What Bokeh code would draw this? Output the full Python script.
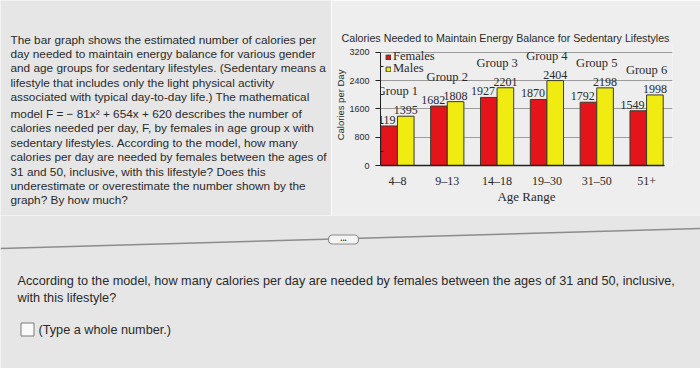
from bokeh.plotting import figure
from bokeh.models import Range1d, FixedTicker, Legend, LegendItem, ColumnDataSource
from bokeh.layouts import column, row
from bokeh.embed import file_html
from bokeh.resources import INLINE
from bokeh.core.properties import value

# ---------------- data ----------------
categories = ["4–8", "9–13", "14–18", "19–30", "31–50", "51+"]
groups = ["Group 1", "Group 2", "Group 3", "Group 4", "Group 5", "Group 6"]
females = [1119, 1682, 1927, 1870, 1792, 1549]
males = [1395, 1808, 2201, 2404, 2198, 1998]
y_ticks = [0, 800, 1600, 2400, 3200]

paragraph = [
    "The bar graph shows the estimated number of calories per",
    "day needed to maintain energy balance for various gender",
    "and age groups for sedentary lifestyles. (Sedentary means a",
    "lifestyle that includes only the light physical activity",
    "associated with typical day-to-day life.) The mathematical",
    "model F = − 81x² + 654x + 620 describes the number of",
    "calories needed per day, F, by females in age group x with",
    "sedentary lifestyles. According to the model, how many",
    "calories per day are needed by females between the ages of",
    "31 and 50, inclusive, with this lifestyle? Does this",
    "underestimate or overestimate the number shown by the",
    "graph? By how much?",
]
question = [
    "According to the model, how many calories per day are needed by females between the ages of 31 and 50, inclusive,",
    "with this lifestyle?",
]
hint = "(Type a whole number.)"
title_text = "Calories Needed to Maintain Energy Balance for Sedentary Lifestyles"

# ---------------- styles ----------------
PAGE = "#e6e6e6"
CHART_BG = "#eeeeee"
TXT = "#2a2a2a"
RED = "#e5141b"
YEL = "#f0ec12"
EDGE = "#3a3a2a"
SANS = "Liberation Sans"
SERIF = "Liberation Serif"

FRAME_TOP = 44      # page px of chart frame top
FRAME_BOTTOM = 165  # page px of chart frame bottom
FRAME_LEFT = 380
ROW_H = 215
LEFT_W = 331

# ---------------- left paragraph ----------------
t = figure(width=LEFT_W, height=ROW_H, x_range=Range1d(0, LEFT_W), y_range=Range1d(ROW_H, 0),
           x_axis_type=None, y_axis_type=None, output_backend="svg", toolbar_location=None,
           min_border=0, outline_line_color=None,
           background_fill_color=PAGE, border_fill_color=PAGE)
t.grid.visible = False
line_y = [39 + 14.4 * i + (2.5 if i >= 5 else 0) for i in range(len(paragraph))]
t.text(x=[10] * len(paragraph), y=line_y, text=paragraph, text_font=value(SANS),
       text_font_size="11.8px", text_baseline="middle", text_color=TXT)

# ---------------- chart ----------------
x = list(range(1, len(categories) + 1))
src = ColumnDataSource(dict(
    x=x,
    xf=[i - 1 / 6 for i in x],
    xm=[i + 1 / 6 for i in x],
    f=females, m=males,
    top=[max(a, b) for a, b in zip(females, males)],
    fl=[str(v) for v in females], ml=[str(v) for v in males],
    grp=groups,
))

c = figure(width=700 - LEFT_W, height=ROW_H, x_range=Range1d(0.66, 6.52), y_range=Range1d(0, 3426),
           output_backend="svg", toolbar_location=None,
           min_border_left=FRAME_LEFT - LEFT_W, min_border_right=28, min_border_top=FRAME_TOP,
           min_border_bottom=ROW_H - FRAME_BOTTOM,
           background_fill_color=CHART_BG, border_fill_color=CHART_BG, outline_line_color=None)

rf = c.vbar(x="xf", top="f", width=1 / 3, source=src, fill_color=RED, line_color=EDGE, line_width=1)
rm = c.vbar(x="xm", top="m", width=1 / 3, source=src, fill_color=YEL, line_color=EDGE, line_width=1)

c.text(x="x", y="f", text="fl", source=src, text_align="right", text_baseline="bottom",
       x_offset=-2, y_offset=-2, text_font=value(SERIF), text_font_size="12px", text_color=TXT)
c.text(x="xm", y="m", text="ml", source=src, text_align="center", text_baseline="bottom",
       y_offset=-2, text_font=value(SERIF), text_font_size="12px", text_color=TXT)
c.text(x="x", y="top", text="grp", source=src, text_align="center", text_baseline="bottom",
       y_offset=-18, text_font=value(SERIF), text_font_size="12.5px", text_color=TXT)

c.title.text = title_text
c.title.text_font = SANS
c.title.text_font_size = "10.7px"
c.title.text_font_style = "normal"
c.title.text_color = TXT
c.title.align = "left"
c.title.offset = -39
c.title.standoff = 2

minor = [(a + b) / 2 for a, b in zip(y_ticks[:-1], y_ticks[1:])]
c.yaxis.ticker = FixedTicker(ticks=y_ticks, minor_ticks=minor)
c.yaxis.bounds = (y_ticks[0], y_ticks[-1])
c.yaxis.axis_label = "Calories per Day"
c.yaxis.axis_label_text_font = SANS
c.yaxis.axis_label_text_font_size = "9.5px"
c.yaxis.axis_label_text_font_style = "normal"
c.yaxis.axis_label_text_color = TXT
c.yaxis.axis_label_standoff = 0
c.yaxis.major_label_text_font = SANS
c.yaxis.major_label_text_font_size = "9px"
c.yaxis.major_label_text_color = TXT
c.yaxis.major_label_standoff = 6
c.yaxis.major_tick_out = 5
c.yaxis.major_tick_in = 0
c.yaxis.minor_tick_out = 0
c.yaxis.minor_tick_in = 3
c.yaxis.axis_line_color = "#222222"
c.yaxis.major_tick_line_color = "#222222"
c.yaxis.minor_tick_line_color = "#222222"

c.xaxis.ticker = FixedTicker(ticks=x)
c.xaxis.bounds = (0.66, 6.36)
c.xaxis.major_label_overrides = {i: lab for i, lab in zip(x, categories)}
c.xaxis.major_tick_line_color = None
c.xaxis.minor_tick_line_color = None
c.xaxis.major_label_text_font = SERIF
c.xaxis.major_label_text_font_size = "12px"
c.xaxis.major_label_text_color = TXT
c.xaxis.major_label_standoff = 2
c.xaxis.axis_label = "Age Range"
c.xaxis.axis_label_text_font = SERIF
c.xaxis.axis_label_text_font_size = "13px"
c.xaxis.axis_label_text_font_style = "normal"
c.xaxis.axis_label_text_color = TXT
c.xaxis.axis_label_standoff = -2
c.xaxis.axis_line_color = "#222222"
c.xaxis.axis_line_width = 1.3

c.xgrid.visible = False
c.ygrid.ticker = FixedTicker(ticks=y_ticks)
c.ygrid.grid_line_color = "#9c9c9c"

leg_style = dict(glyph_width=6, glyph_height=6, label_height=11,
                 label_text_font=SERIF, label_text_font_size="12.5px", label_text_color=TXT,
                 label_standoff=2, spacing=0, padding=0,
                 background_fill_alpha=0, border_line_color=None)
leg_f = Legend(items=[LegendItem(label="Females", renderers=[rf])],
               location="top_left", margin=5, **leg_style)
leg_m = Legend(items=[LegendItem(label="Males", renderers=[rm])],
               location=(5, 89), margin=0, **leg_style)
c.add_layout(leg_f)
c.add_layout(leg_m)

# ---------------- bottom question ----------------
b = figure(width=700, height=368 - ROW_H, x_range=Range1d(0, 700), y_range=Range1d(368, ROW_H),
           x_axis_type=None, y_axis_type=None, output_backend="svg", toolbar_location=None,
           min_border=0, outline_line_color=None,
           background_fill_color=PAGE, border_fill_color=PAGE)
b.grid.visible = False
b.line(x=[0, 700], y=[248, 228], line_color="#8c8c8c", line_width=1.5)
b.quad(left=[328], right=[358], top=[234.5], bottom=[243.5], fill_color="#f4f4f4",
       line_color="#8c8c8c", line_width=1.2, border_radius=4)
b.text(x=[343], y=[239.5], text=["•••"], text_align="center", text_baseline="middle",
       text_font=value(SANS), text_font_size="6px", text_color="#555555")
b.text(x=[17, 17], y=[280, 297], text=question, text_font=value(SANS),
       text_font_size="12.7px", text_baseline="middle", text_color=TXT)
b.rect(x=[27], y=[329], width=13, height=13, fill_color="#fafafa", line_color="#7a7a7a", line_width=1)
b.text(x=[38], y=[329], text=[hint], text_font=value(SANS), text_font_size="12.7px",
       text_baseline="middle", text_color=TXT)

layout = column(row(column(t), column(c)), b)
open("out.html", "w").write(file_html(layout, INLINE))
